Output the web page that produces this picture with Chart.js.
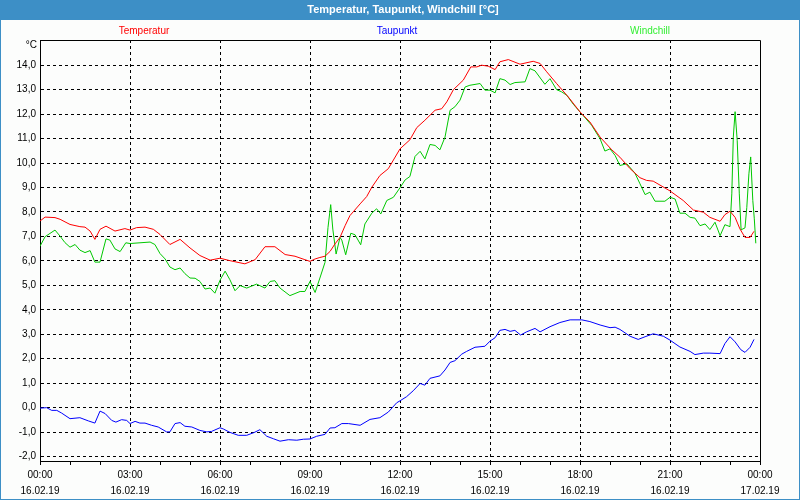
<!DOCTYPE html>
<html>
<head>
<meta charset="utf-8">
<script src="https://cdn.jsdelivr.net/npm/chart.js@4.4.0/dist/chart.umd.min.js"></script>
<style>
  html, body { margin: 0; padding: 0; background: #fcfdfc; }
  #wrap { width: 800px; height: 500px; }
</style>
</head>
<body>
<div id="wrap"><canvas id="chart" width="800" height="500"></canvas></div>
<script>
// hours since 16.02.19 00:00, values in °C
const tempHours = [0, 0.17, 0.5, 0.67, 1.0, 1.33, 1.5, 1.67, 1.83, 2.0, 2.2, 2.5, 2.83, 3.0, 3.22, 3.5, 3.78, 4.0, 4.33, 4.67,
  5.0, 5.33, 5.67, 6.0, 6.33, 6.83, 7.17, 7.5, 7.83, 8.17, 8.5, 8.83, 9.0, 9.17, 9.33, 9.5, 9.67, 9.83, 10.0, 10.17,
  10.33, 10.67, 10.89, 11.06, 11.33, 11.61, 12.0, 12.33, 12.56, 12.83, 13.17, 13.39, 13.56, 13.78, 14.11, 14.36, 14.56, 14.72, 14.94, 15.17,
  15.33, 15.61, 16.0, 16.44, 16.67, 16.89, 17.22, 17.61, 18.0, 18.33, 18.67, 19.06, 19.33, 19.67, 20.0, 20.22, 20.44, 21.0, 21.44, 21.78,
  22.11, 22.33, 22.67, 22.83, 23.0, 23.17, 23.33, 23.5, 23.67, 23.8];
const tempValues = [7.63, 7.79, 7.77, 7.70, 7.49, 7.40, 7.38, 7.22, 6.88, 7.29, 7.42, 7.22, 7.32, 7.26, 7.36, 7.38, 7.29, 7.08, 6.67, 6.88,
  6.53, 6.22, 6.03, 6.11, 6.01, 5.88, 6.05, 6.58, 6.58, 6.26, 6.19, 6.05, 5.98, 6.08, 6.14, 6.19, 6.39, 6.69, 6.96, 7.44,
  7.85, 8.33, 8.63, 9.01, 9.49, 9.77, 10.58, 10.95, 11.45, 11.75, 12.16, 12.22, 12.50, 13.0, 13.39, 13.93, 13.93, 14.0, 13.96, 13.82,
  14.14, 14.23, 14.04, 14.16, 14.07, 13.73, 13.25, 12.70, 12.09, 11.68, 11.06, 10.54, 10.24, 9.77, 9.40, 9.29, 9.26, 8.86, 8.47, 8.08,
  7.99, 7.78, 7.62, 7.89, 8.03, 7.78, 7.31, 6.96, 6.96, 7.21];

const dewHours = [0, 0.22, 0.39, 0.56, 0.72, 1.0, 1.33, 1.61, 1.83, 2.0, 2.17, 2.39, 2.53, 2.72, 2.89, 3.0, 3.17, 3.33, 3.5, 3.72,
  3.94, 4.22, 4.33, 4.5, 4.67, 4.83, 5.06, 5.33, 5.56, 5.72, 6.0, 6.11, 6.33, 6.61, 6.89, 7.13, 7.33, 7.56, 7.78, 8.0,
  8.28, 8.56, 8.78, 9.0, 9.22, 9.5, 9.67, 9.83, 10.06, 10.28, 10.67, 11.0, 11.33, 11.61, 11.89, 12.0, 12.22, 12.44, 12.67, 12.83,
  13.0, 13.33, 13.5, 13.67, 13.83, 14.06, 14.22, 14.5, 14.83, 15.0, 15.17, 15.33, 15.5, 15.67, 15.83, 16.02, 16.22, 16.5, 16.67, 17.0,
  17.33, 17.67, 18.06, 18.33, 18.67, 19.0, 19.17, 19.33, 19.67, 19.94, 20.17, 20.44, 20.78, 21.0, 21.33, 21.67, 21.83, 22.11, 22.33, 22.67,
  22.83, 23.0, 23.17, 23.36, 23.5, 23.67, 23.8];
const dewValues = [-0.02, 0.0, -0.11, -0.11, -0.22, -0.45, -0.41, -0.54, -0.63, -0.14, -0.24, -0.52, -0.59, -0.49, -0.52, -0.65, -0.56, -0.63, -0.63, -0.72,
  -0.79, -0.99, -0.99, -0.65, -0.61, -0.76, -0.79, -0.93, -0.99, -0.97, -0.82, -0.87, -1.01, -1.13, -1.13, -1.02, -0.90, -1.17, -1.27, -1.37,
  -1.31, -1.33, -1.29, -1.28, -1.17, -1.09, -0.83, -0.82, -0.65, -0.65, -0.72, -0.48, -0.41, -0.18, 0.20, 0.28, 0.45, 0.69, 0.99, 0.92,
  1.20, 1.30, 1.54, 1.85, 1.92, 2.19, 2.30, 2.47, 2.51, 2.72, 2.86, 3.16, 3.20, 3.12, 3.16, 2.97, 3.10, 3.24, 3.10, 3.31,
  3.48, 3.59, 3.59, 3.52, 3.38, 3.27, 3.29, 3.20, 2.92, 2.79, 2.90, 3.02, 2.92, 2.76, 2.48, 2.30, 2.17, 2.23, 2.23, 2.21,
  2.62, 2.90, 2.69, 2.37, 2.26, 2.47, 2.79];

const chillHours = [0, 0.17, 0.5, 0.67, 0.83, 1.0, 1.17, 1.33, 1.5, 1.67, 1.83, 2.0, 2.2, 2.33, 2.5, 2.67, 2.86, 3.0, 3.67, 3.83,
  4.0, 4.17, 4.33, 4.5, 4.67, 4.83, 5.0, 5.17, 5.33, 5.5, 5.67, 5.83, 6.0, 6.17, 6.33, 6.5, 6.67, 6.89, 7.22, 7.5,
  7.67, 7.83, 8.0, 8.33, 8.67, 8.83, 9.0, 9.17, 9.33, 9.5, 9.6, 9.69, 9.76, 9.87, 10.0, 10.06, 10.19, 10.36, 10.5, 10.69,
  10.83, 11.06, 11.22, 11.36, 11.56, 11.78, 12.0, 12.17, 12.33, 12.5, 12.67, 12.83, 13.0, 13.17, 13.33, 13.5, 13.67, 13.83, 14.0, 14.17,
  14.33, 14.67, 14.83, 15.0, 15.17, 15.33, 15.5, 15.67, 15.83, 16.17, 16.33, 16.5, 16.83, 17.0, 17.22, 17.39, 17.56, 17.78, 18.0, 18.39,
  18.67, 18.83, 19.0, 19.17, 19.33, 19.56, 19.83, 20.0, 20.17, 20.33, 20.5, 20.83, 21.0, 21.17, 21.33, 21.5, 21.67, 21.83, 22.0, 22.17,
  22.33, 22.5, 22.67, 22.83, 23.0, 23.06, 23.11, 23.17, 23.24, 23.31, 23.37, 23.5, 23.56, 23.63, 23.69, 23.76, 23.81, 23.86];
const chillValues = [6.60, 6.99, 7.26, 7.01, 6.75, 6.56, 6.67, 6.44, 6.34, 6.42, 5.95, 5.95, 6.90, 6.85, 6.49, 6.38, 6.74, 6.71, 6.77, 6.67,
  6.30, 6.08, 5.75, 5.64, 5.71, 5.48, 5.30, 5.29, 5.16, 4.85, 4.89, 4.68, 5.21, 5.58, 5.23, 4.78, 4.99, 4.89, 5.05, 4.89,
  5.16, 5.19, 4.89, 4.58, 4.75, 4.75, 5.16, 4.71, 5.30, 5.94, 7.37, 8.30, 7.30, 6.28, 6.96, 6.85, 6.25, 7.13, 7.07, 6.66,
  7.51, 7.95, 8.13, 7.92, 8.47, 8.60, 8.99, 9.31, 9.45, 10.27, 10.48, 10.17, 10.76, 10.72, 10.54, 11.06, 12.16, 12.30, 12.57, 13.11,
  13.18, 13.25, 12.98, 12.98, 12.87, 13.45, 13.39, 13.21, 13.29, 13.32, 13.86, 13.77, 13.22, 13.45, 13.0, 12.91, 12.77, 12.40, 12.09, 11.54,
  10.99, 10.49, 10.58, 10.31, 9.90, 9.97, 9.59, 9.15, 8.71, 8.81, 8.44, 8.44, 8.60, 8.53, 7.95, 7.95, 7.78, 7.75, 7.44, 7.51,
  7.28, 7.58, 7.03, 7.48, 7.40, 8.74, 11.06, 12.10, 10.93, 8.74, 7.27, 7.35, 8.19, 9.56, 10.25, 8.47, 7.72, 6.72];

const yTicks = [-2, -1, 0, 1, 2, 3, 4, 5, 6, 7, 8, 9, 10, 11, 12, 13, 14];
const xTickLabels = {
  0: ['00:00', '16.02.19'], 3: ['03:00', '16.02.19'], 6: ['06:00', '16.02.19'], 9: ['09:00', '16.02.19'],
  12: ['12:00', '16.02.19'], 15: ['15:00', '16.02.19'], 18: ['18:00', '16.02.19'], 21: ['21:00', '16.02.19'],
  24: ['00:00', '17.02.19']
};

const seriesNames = ['Temperatur', 'Taupunkt', 'Windchill'];

const pts = (hs, vs) => hs.map((h, i) => ({ x: h, y: vs[i] }));
const FONT = 'Liberation Sans, Arial, sans-serif';
const FRAME = '#3d8fc6';

// frame, title bar, legend row and unit label
const decor = {
  id: 'decor',
  beforeDraw(chart) {
    const ctx = chart.ctx;
    ctx.save();
    ctx.fillStyle = '#fcfdfc';
    ctx.fillRect(0, 0, 800, 500);
    ctx.fillStyle = FRAME;
    ctx.fillRect(0, 0, 800, 20);
    ctx.strokeStyle = FRAME;
    ctx.lineWidth = 1;
    ctx.strokeRect(0.5, 0.5, 799, 499);
    ctx.fillStyle = '#ffffff';
    ctx.font = 'bold 11px ' + FONT;
    ctx.textAlign = 'center';
    ctx.textBaseline = 'middle';
    ctx.fillText('Temperatur, Taupunkt, Windchill [°C]', 403, 10);
    ctx.font = '10px ' + FONT;
    ctx.fillStyle = '#ff0000';
    ctx.fillText(seriesNames[0], 144, 31);
    ctx.fillStyle = '#0000ff';
    ctx.fillText(seriesNames[1], 397, 31);
    ctx.fillStyle = '#33ee33';
    ctx.fillText(seriesNames[2], 650, 31);
    ctx.fillStyle = '#000';
    ctx.textAlign = 'right';
    ctx.fillText('°C', 37, 45);
    ctx.restore();
  },
  afterDraw(chart) {
    const { ctx, chartArea: a } = chart;
    ctx.save();
    ctx.strokeStyle = '#000';
    ctx.lineWidth = 1;
    ctx.beginPath();
    ctx.moveTo(Math.round(a.left) + 0.5, Math.round(a.top) + 0.5);
    ctx.lineTo(Math.round(a.right) + 0.5, Math.round(a.top) + 0.5);
    ctx.lineTo(Math.round(a.right) + 0.5, Math.round(a.bottom) + 0.5);
    ctx.stroke();
    ctx.restore();
  }
};

new Chart(document.getElementById('chart'), {
  type: 'line',
  data: {
    datasets: [
      { label: seriesNames[0], data: pts(tempHours, tempValues), borderColor: '#ff0000' },
      { label: seriesNames[1], data: pts(dewHours, dewValues), borderColor: '#0000ff' },
      { label: seriesNames[2], data: pts(chillHours, chillValues), borderColor: '#00c800' }
    ]
  },
  options: {
    responsive: false,
    animation: false,
    devicePixelRatio: 1,
    layout: { padding: { top: 40, right: 40, left: 0, bottom: 0 } },
    elements: {
      line: { borderWidth: 1, tension: 0, fill: false },
      point: { radius: 0, hoverRadius: 0 }
    },
    plugins: { legend: { display: false }, title: { display: false }, tooltip: { enabled: false } },
    scales: {
      x: {
        type: 'linear',
        min: 0,
        max: 24,
        afterFit: s => { s.height = 39; },
        afterBuildTicks: s => { s.ticks = Array.from({ length: 25 }, (_, i) => ({ value: i })); },
        grid: {
          color: c => (c.tick && c.tick.value % 3 === 0 && c.tick.value > 0 && c.tick.value < 24) ? '#000' : 'rgba(0,0,0,0)',
          tickColor: '#000',
          tickLength: 4,
          lineWidth: 1
        },
        border: { display: true, color: '#000', width: 1, dash: [3, 3] },
        ticks: {
          autoSkip: false,
          maxRotation: 0,
          padding: 2,
          color: '#000',
          font: { family: FONT, size: 10, lineHeight: 1.6 },
          callback: v => xTickLabels[v] || ''
        }
      },
      y: {
        min: -2.18,
        max: 15.03,
        afterFit: s => { s.width = 40; },
        afterBuildTicks: s => { s.ticks = yTicks.map(v => ({ value: v })); },
        grid: { color: '#000', drawTicks: false, lineWidth: 1 },
        border: { display: true, color: '#000', width: 1, dash: [3, 3] },
        ticks: {
          padding: 4,
          color: '#000',
          font: { family: FONT, size: 10 },
          callback: v => v.toFixed(1).replace('.', ',')
        }
      }
    }
  },
  plugins: [decor]
});
</script>
</body>
</html>
